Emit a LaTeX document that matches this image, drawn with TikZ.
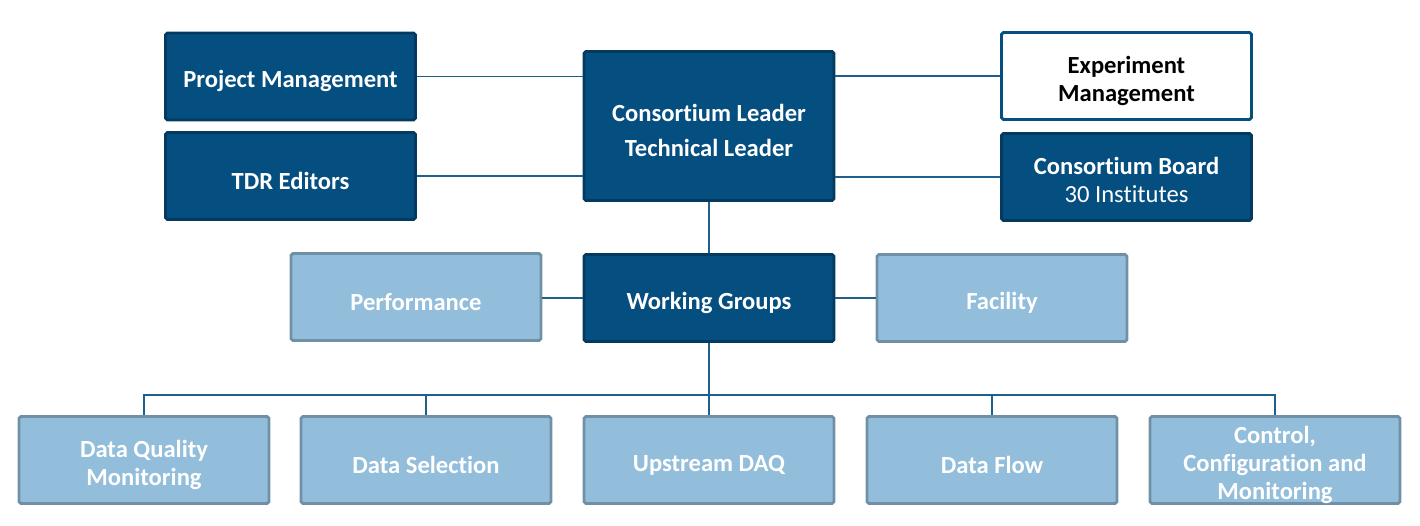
\documentclass[tikz,border=0pt]{standalone}
\usepackage{fontspec}
\setmainfont{Carlito}[Ligatures=NoCommon]
\usetikzlibrary{positioning}
\usetikzlibrary{calc}
\definecolor{darkblue}{RGB}{5,78,128}
\definecolor{darkedge}{RGB}{4,58,96}
\definecolor{lightblue}{RGB}{146,189,219}
\definecolor{lightedge}{RGB}{112,144,168}
\definecolor{linkblue}{RGB}{31,95,139}
\newcommand{\lift}[1][15pt]{\rule{0pt}{#1}}
\tikzset{
  darkbox/.style={draw=darkedge, fill=darkblue, text=white, line width=1.6pt,
    minimum width=5.0cm, minimum height=1.74cm, align=center, rounded corners=1pt,
    font=\fontsize{14}{16}\selectfont\bfseries,
    execute at begin node={\lift}},
  lightbox/.style={darkbox, draw=lightedge, fill=lightblue},
  whitebox/.style={darkbox, draw=darkblue, fill=white, text=black},
  link/.style={draw=linkblue, line width=1pt},
}

\begin{document}
\begin{tikzpicture}[x=0.02cm, y=-0.02cm]
    \useasboundingbox (0,0) rectangle (1420,526);

    % top part
    \node[darkbox, minimum height=2.98cm] (lead) at (709,126) {\lift Consortium Leader\\[4pt]Technical Leader};
    \node[darkbox] (pm) at (290.5,76.5) {Project Management};
    \node[darkbox] (tdr) at (290.5,176) {TDR Editors};
    \node[whitebox] (em) at (1126.5,76) {\lift Experiment\\Management};
    \node[darkbox] (board) at (1126.5,177) {\lift[13pt]Consortium Board\\{\mdseries 30 Institutes}};

    \draw[link] (pm.east) -- (pm.east -| lead.west);
    \draw[link] (tdr.east) -- (tdr.east -| lead.west);
    \draw[link] (em.west) -- (em.west -| lead.east);
    \draw[link] (board.west) -- (board.west -| lead.east);

    % working groups
    \node[darkbox] (wg) at (709,298) {Working Groups};
    \node[lightbox] (perf) at (416,297) {Performance};
    \node[lightbox] (fac) at (1002,298) {Facility};

    \draw[link] (lead.south) -- (wg.north);
    \draw[link] (perf.east |- wg.west) -- (wg.west);
    \draw[link] (fac.west |- wg.east) -- (wg.east);

    \coordinate (bus) at (709,395);
    \draw[link] (wg.south) -- (bus);

    \foreach \x/\txt [count=\n] in {144/{\lift Data Quality\\Monitoring}, 426/{Data Selection},
        709/{Upstream DAQ}, 992/{Data Flow}, 1275/{\lift[13pt]Control,\\Configuration and\\\smash{Monitoring}}} {
      \node[lightbox, inner ysep=0pt] (group\n) at (\x,460) {\txt};
      \draw[link] (bus) -| (group\n.north);
    }
\end{tikzpicture}
\end{document}
